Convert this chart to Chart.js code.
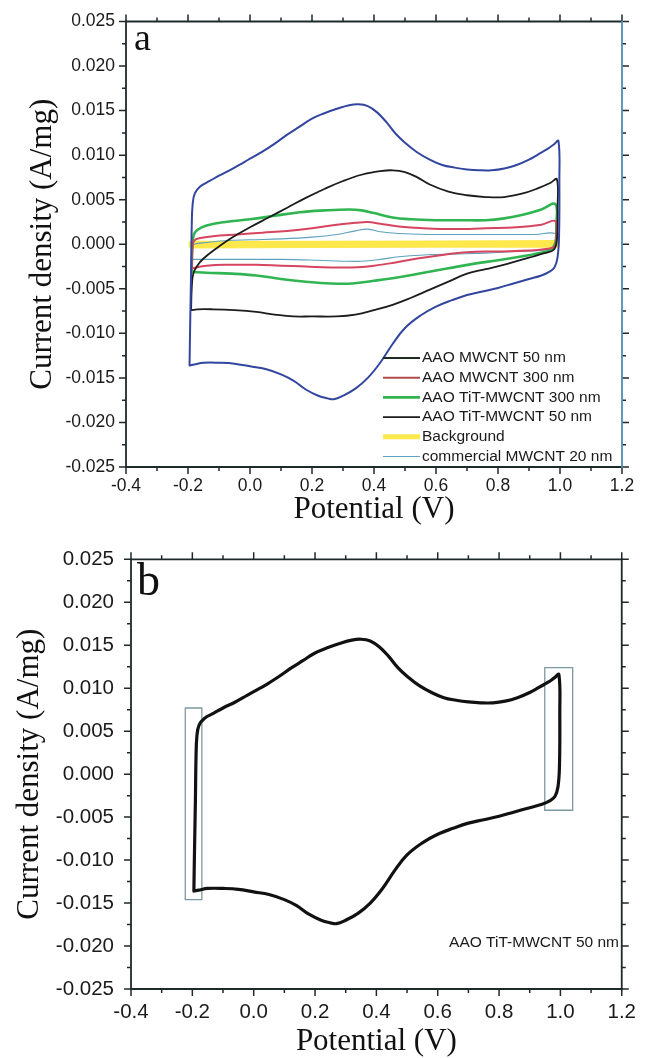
<!DOCTYPE html>
<html><head><meta charset="utf-8">
<script src="https://cdn.jsdelivr.net/npm/chart.js@4.4.1/dist/chart.umd.min.js"></script>
<style>
html,body{margin:0;padding:0;background:#fff;width:647px;height:1058px;overflow:hidden}
canvas{position:absolute;left:0;display:block}
#ca{top:0}
#cb{top:530px}
</style></head><body>
<canvas id="ca" width="647" height="530"></canvas>
<canvas id="cb" width="647" height="528"></canvas>
<script>
// ---------------- data ----------------
const xTickValues = [-0.4, -0.2, 0.0, 0.2, 0.4, 0.6, 0.8, 1.0, 1.2];
const xTickLabels = ['-0.4', '-0.2', '0.0', '0.2', '0.4', '0.6', '0.8', '1.0', '1.2'];
const yTickValues = [-0.025, -0.020, -0.015, -0.010, -0.005, 0, 0.005, 0.010, 0.015, 0.020, 0.025];
const yTickLabels = ['-0.025', '-0.020', '-0.015', '-0.010', '-0.005', '0.000', '0.005', '0.010', '0.015', '0.020', '0.025'];
const xTitle = 'Potential (V)';
const yTitle = 'Current density (A/mg)';
const seriesNames = ['AAO MWCNT 50 nm', 'AAO MWCNT 300 nm', 'AAO TiT-MWCNT 300 nm', 'AAO TiT-MWCNT 50 nm', 'Background', 'commercial MWCNT 20 nm'];
const panelLetters = ['a', 'b'];

// AAO TiT-MWCNT 50 nm (large loop, panels a and b)
const tit50V = [-0.195, -0.193, -0.190, -0.188, -0.185, -0.178, -0.160, -0.130, -0.100, -0.060, -0.020, 0.000, 0.040, 0.080, 0.120, 0.160, 0.200, 0.240, 0.280, 0.320, 0.350, 0.380, 0.410, 0.440, 0.470, 0.500, 0.540, 0.580, 0.620, 0.660, 0.700, 0.740, 0.780, 0.820, 0.860, 0.900, 0.930, 0.960, 0.980, 0.995,
  0.998, 0.997, 0.992, 0.982, 0.965, 0.940, 0.900, 0.850, 0.800, 0.750, 0.700, 0.650, 0.600, 0.550, 0.500, 0.460, 0.420, 0.380, 0.340, 0.300, 0.270, 0.250, 0.220, 0.180, 0.140, 0.100, 0.050, 0.000, -0.050, -0.100, -0.150, -0.180, -0.195];
const tit50I = [-0.0136, -0.0090, -0.0030, 0.0020, 0.0045, 0.0057, 0.0065, 0.0071, 0.0077, 0.0084, 0.0092, 0.0096, 0.0104, 0.0113, 0.0123, 0.0132, 0.0141, 0.0147, 0.0152, 0.0156, 0.0157, 0.0155, 0.0148, 0.0137, 0.0124, 0.0114, 0.0103, 0.0095, 0.0089, 0.0086, 0.0084, 0.0083, 0.0083, 0.0085, 0.0089, 0.0095, 0.0101, 0.0107, 0.0112, 0.0116,
  0.0070, 0.0010, -0.0015, -0.0026, -0.0031, -0.0035, -0.0039, -0.0044, -0.0049, -0.0053, -0.0057, -0.0063, -0.0070, -0.0080, -0.0094, -0.0112, -0.0133, -0.0150, -0.0162, -0.0170, -0.0174, -0.0173, -0.0170, -0.0163, -0.0153, -0.0146, -0.0140, -0.0137, -0.0134, -0.0133, -0.0133, -0.0135, -0.0136];

// AAO MWCNT 50 nm
const mw50V = [-0.190, -0.188, -0.183, -0.170, -0.150, -0.110, -0.060, 0.000, 0.060, 0.120, 0.180, 0.240, 0.300, 0.360, 0.420, 0.460, 0.500, 0.540, 0.580, 0.640, 0.700, 0.760, 0.820, 0.880, 0.930, 0.970, 0.990,
  0.992, 0.990, 0.980, 0.950, 0.900, 0.830, 0.760, 0.700, 0.640, 0.580, 0.520, 0.460, 0.400, 0.340, 0.280, 0.200, 0.140, 0.080, 0.020, -0.050, -0.120, -0.170, -0.190];
const mw50I = [-0.0074, -0.0050, -0.0033, -0.0024, -0.0016, -0.0005, 0.0007, 0.0019, 0.0030, 0.0041, 0.0052, 0.0062, 0.0071, 0.0078, 0.0082, 0.0083, 0.0081, 0.0075, 0.0067, 0.0059, 0.0055, 0.0053, 0.0053, 0.0057, 0.0063, 0.0069, 0.0073,
  0.0040, 0.0005, -0.0006, -0.0010, -0.0015, -0.0022, -0.0028, -0.0033, -0.0042, -0.0051, -0.0060, -0.0068, -0.0074, -0.0079, -0.0081, -0.0081, -0.0081, -0.0079, -0.0076, -0.0074, -0.0073, -0.0073, -0.0074];

// AAO MWCNT 300 nm
const mw300V = [-0.188, -0.186, -0.180, -0.160, -0.120, -0.040, 0.040, 0.120, 0.200, 0.280, 0.340, 0.380, 0.420, 0.480, 0.560, 0.660, 0.760, 0.860, 0.940, 0.985,
  0.988, 0.984, 0.960, 0.900, 0.800, 0.700, 0.620, 0.540, 0.460, 0.400, 0.330, 0.260, 0.180, 0.100, 0.020, -0.060, -0.140, -0.188];
const mw300I = [-0.0027, -0.0005, 0.0004, 0.0007, 0.0009, 0.0011, 0.0013, 0.0015, 0.0018, 0.0022, 0.0024, 0.0025, 0.0023, 0.0020, 0.0018, 0.0017, 0.0018, 0.0019, 0.0022, 0.0026,
  0.0010, -0.0002, -0.0005, -0.0007, -0.0008, -0.0009, -0.0012, -0.0016, -0.0021, -0.0024, -0.0026, -0.0026, -0.0025, -0.0024, -0.0023, -0.0023, -0.0024, -0.0027];

// AAO TiT-MWCNT 300 nm
const tit300V = [-0.188, -0.186, -0.182, -0.170, -0.140, -0.080, 0.000, 0.080, 0.160, 0.240, 0.320, 0.360, 0.400, 0.460, 0.520, 0.600, 0.680, 0.760, 0.820, 0.880, 0.940, 0.985,
  0.988, 0.985, 0.970, 0.930, 0.870, 0.800, 0.720, 0.640, 0.560, 0.480, 0.400, 0.330, 0.260, 0.180, 0.100, 0.020, -0.060, -0.140, -0.188];
const tit300I = [-0.0031, -0.0005, 0.0010, 0.0016, 0.0021, 0.0025, 0.0028, 0.0032, 0.0036, 0.0038, 0.0039, 0.0038, 0.0035, 0.0030, 0.0028, 0.0027, 0.0027, 0.0027, 0.0029, 0.0033, 0.0039, 0.0045,
  0.0020, 0.0002, -0.0006, -0.0010, -0.0014, -0.0018, -0.0022, -0.0027, -0.0032, -0.0037, -0.0041, -0.0044, -0.0044, -0.0042, -0.0039, -0.0035, -0.0033, -0.0032, -0.0031];

// Background
const bgV = [-0.190, 0.200, 0.600, 0.990, 0.990, 0.600, 0.200, -0.190, -0.190];
const bgI = [0.0001, 0.0001, 0.00015, 0.0002, -0.0001, -0.00012, -0.00015, -0.0002, 0.0001];

// commercial MWCNT 20 nm
const com20V = [-0.188, -0.186, -0.180, -0.140, -0.080, 0.000, 0.100, 0.200, 0.280, 0.340, 0.380, 0.420, 0.480, 0.580, 0.700, 0.820, 0.920, 0.985,
  0.988, 0.980, 0.940, 0.860, 0.760, 0.660, 0.560, 0.480, 0.420, 0.360, 0.300, 0.220, 0.100, -0.020, -0.120, -0.188];
const com20I = [-0.0017, -0.0003, 0.0000, 0.0002, 0.0004, 0.0005, 0.0006, 0.0008, 0.0011, 0.0015, 0.0017, 0.0014, 0.0012, 0.0011, 0.0011, 0.0011, 0.0011, 0.0012,
  0.0002, -0.0004, -0.0007, -0.0008, -0.0010, -0.0011, -0.0012, -0.0014, -0.0017, -0.0019, -0.0019, -0.0018, -0.0017, -0.0017, -0.0017, -0.0017];

// highlight boxes in panel b (potential, current)
const boxLeftV = [-0.223, -0.169, -0.169, -0.223, -0.223];
const boxLeftI = [0.0077, 0.0077, -0.0146, -0.0146, 0.0077];
const boxRightV = [0.949, 1.040, 1.040, 0.949, 0.949];
const boxRightI = [0.0124, 0.0124, -0.0042, -0.0042, 0.0124];

// ---------------- helpers ----------------
const SANS = "'Liberation Sans', Arial, Helvetica, sans-serif";
const SERIF = "'Liberation Serif', 'Times New Roman', Times, serif";
const pts = (v, i) => v.map((x, k) => ({x: x, y: i[k]}));
const lineDs = (o) => Object.assign({showLine: true, pointRadius: 0, pointHoverRadius: 0, fill: false, tension: 0.4, borderJoinStyle: 'round', borderCapStyle: 'round'}, o);

function framePlugin(o) {
  return {
    id: 'frameTicks',
    afterDatasetsDraw(chart) {
      const {ctx, chartArea: a} = chart;
      const xs = chart.scales.x, ys = chart.scales.y;
      const xMaj = xs.ticks.map(t => t.value), yMaj = ys.ticks.map(t => t.value);
      const mids = arr => arr.slice(1).map((v, k) => (v + arr[k]) / 2);
      ctx.save();
      ctx.strokeStyle = o.color;
      ctx.lineWidth = o.tickWidth;
      ctx.beginPath();
      const tx = (vals, len) => vals.forEach(v => {
        const p = xs.getPixelForValue(v);
        ctx.moveTo(p, a.bottom); ctx.lineTo(p, a.bottom + len);
        ctx.moveTo(p, a.top); ctx.lineTo(p, a.top - len);
      });
      const ty = (vals, len) => vals.forEach(v => {
        const p = ys.getPixelForValue(v);
        ctx.moveTo(a.left, p); ctx.lineTo(a.left - len, p);
        ctx.moveTo(a.right, p); ctx.lineTo(a.right + len, p);
      });
      tx(xMaj, o.major); tx(mids(xMaj), o.minor);
      ty(yMaj, o.major); ty(mids(yMaj), o.minor);
      ctx.stroke();
      ctx.lineWidth = o.frameWidth;
      ctx.lineCap = 'square';
      ctx.beginPath();
      ctx.moveTo(a.right, a.top); ctx.lineTo(a.left, a.top); ctx.lineTo(a.left, a.bottom); ctx.lineTo(a.right, a.bottom);
      ctx.stroke();
      ctx.strokeStyle = o.rightColor || o.color;
      ctx.beginPath(); ctx.moveTo(a.right, a.top); ctx.lineTo(a.right, a.bottom); ctx.stroke();
      ctx.restore();
    }
  };
}

function legendPlugin(o) {
  return {
    id: 'cvLegend',
    afterDatasetsDraw(chart) {
      const ctx = chart.ctx;
      ctx.save();
      ctx.font = o.fontSize + 'px ' + SANS;
      ctx.textBaseline = 'middle';
      ctx.textAlign = 'left';
      let row = 0;
      chart.data.datasets.forEach(ds => {
        if (!ds.inLegend) return;
        const y = o.top + row * o.rowGap;
        ctx.strokeStyle = ds.legendColor || ds.borderColor;
        ctx.lineWidth = ds.legendWidth || ds.borderWidth;
        ctx.beginPath(); ctx.moveTo(o.left, y); ctx.lineTo(o.left + o.lineLen, y); ctx.stroke();
        ctx.fillStyle = o.textColor;
        ctx.fillText(ds.label, o.left + o.lineLen + o.gap, y);
        row++;
      });
      ctx.restore();
    }
  };
}

function textPlugin(items) {
  return {
    id: 'panelText',
    afterDatasetsDraw(chart) {
      const ctx = chart.ctx;
      items.forEach(it => {
        ctx.save();
        ctx.font = it.font;
        ctx.fillStyle = it.color || '#111';
        ctx.textAlign = it.align || 'left';
        ctx.textBaseline = it.baseline || 'alphabetic';
        ctx.fillText(it.text, it.x, it.y);
        ctx.restore();
      });
    }
  };
}

function scalesFor(p) {
  return {
    x: {
      type: 'linear', position: 'bottom', min: -0.4, max: 1.2,
      afterBuildTicks: s => { s.ticks = xTickValues.map(v => ({value: v})); },
      afterFit: s => { s.height = p.xAxisHeight; },
      grid: {display: true, drawOnChartArea: false, drawTicks: false},
      border: {display: false},
      ticks: {autoSkip: false, maxRotation: 0, padding: p.xPad, color: '#1a1a1a',
        font: {family: SANS, size: p.tickSize}, callback: (v, i) => xTickLabels[i]},
      title: {display: true, text: xTitle, color: '#111',
        font: {family: SERIF, size: p.titleSize, lineHeight: 1}, padding: {top: 0, bottom: p.xTitlePad}}
    },
    y: {
      type: 'linear', position: 'left', min: -0.025, max: 0.025,
      afterBuildTicks: s => { s.ticks = yTickValues.map(v => ({value: v})); },
      afterFit: s => { s.width = p.yAxisWidth; },
      grid: {display: true, drawOnChartArea: false, drawTicks: false},
      border: {display: false},
      ticks: {autoSkip: false, padding: p.yPad, color: '#1a1a1a',
        font: {family: SANS, size: p.tickSize}, callback: (v, i) => yTickLabels[i]},
      title: {display: true, text: yTitle, color: '#111',
        font: {family: SERIF, size: p.titleSize, lineHeight: 1}, padding: {top: p.yTitlePad, bottom: 0}}
    }
  };
}

const common = {
  responsive: false, devicePixelRatio: 1, animation: false, events: [],
  plugins: {legend: {display: false}, tooltip: {enabled: false}}
};

// ---------------- panel a ----------------
new Chart(document.getElementById('ca'), {
  type: 'scatter',
  data: {
    datasets: [
      lineDs({label: seriesNames[0], data: pts(mw50V, mw50I), borderColor: '#1c1c1c', borderWidth: 1.8, order: 2, inLegend: true, legendColor: '#1f2a22'}),
      lineDs({label: seriesNames[1], data: pts(mw300V, mw300I), borderColor: '#d6455f', borderWidth: 2, order: 3, inLegend: true, legendColor: '#b04a4c'}),
      lineDs({label: seriesNames[2], data: pts(tit300V, tit300I), borderColor: '#31b552', borderWidth: 2.6, order: 4, inLegend: true}),
      lineDs({label: seriesNames[3], data: pts(tit50V, tit50I), borderColor: '#33469f', borderWidth: 2, order: 1, inLegend: true, legendColor: '#1c1c1c', legendWidth: 1.8}),
      lineDs({label: seriesNames[4], data: pts(bgV, bgI), borderColor: '#ffe84c', borderWidth: 5, tension: 0, order: 6, inLegend: true, legendWidth: 5}),
      lineDs({label: seriesNames[5], data: pts(com20V, com20I), borderColor: '#5ea2bd', borderWidth: 1.1, order: 5, inLegend: true})
    ]
  },
  options: Object.assign({}, common, {
    layout: {padding: {left: 0, right: 25, top: 20, bottom: 0}},
    scales: scalesFor({xAxisHeight: 63, yAxisWidth: 126, tickSize: 17.5, titleSize: 31, xPad: 8.5, yPad: 11, xTitlePad: 5, yTitlePad: 27})
  }),
  plugins: [
    framePlugin({color: '#1e2a2a', rightColor: '#4f8db5', tickWidth: 1.5, frameWidth: 1.8, major: 7, minor: 4}),
    legendPlugin({left: 383, top: 358, rowGap: 19.7, lineLen: 37, gap: 2, fontSize: 15.5, textColor: '#1a1a1a'}),
    textPlugin([{text: panelLetters[0], x: 134, y: 50, font: '38px ' + SERIF, color: '#111'}])
  ]
});

// ---------------- panel b ----------------
new Chart(document.getElementById('cb'), {
  type: 'scatter',
  data: {
    datasets: [
      lineDs({label: seriesNames[3], data: pts(tit50V, tit50I), borderColor: '#111111', borderWidth: 3.2, order: 1}),
      lineDs({label: 'box-left', data: pts(boxLeftV, boxLeftI), borderColor: '#7d98a2', borderWidth: 1.3, tension: 0, borderJoinStyle: 'miter', order: 2}),
      lineDs({label: 'box-right', data: pts(boxRightV, boxRightI), borderColor: '#7d98a2', borderWidth: 1.3, tension: 0, borderJoinStyle: 'miter', order: 2})
    ]
  },
  options: Object.assign({}, common, {
    layout: {padding: {left: 0, right: 20, top: 28, bottom: 0}},
    scales: scalesFor({xAxisHeight: 69, yAxisWidth: 131, tickSize: 20.5, titleSize: 31, xPad: 11, yPad: 17, xTitlePad: 0.5, yTitlePad: 14})
  }),
  plugins: [
    framePlugin({color: '#1e2a2a', tickWidth: 1.5, frameWidth: 1.8, major: 7, minor: 4}),
    textPlugin([
      {text: panelLetters[1], x: 137, y: 65, font: '46px ' + SERIF, color: '#111'},
      {text: seriesNames[3], x: 619, y: 413, font: '15.5px ' + SANS, color: '#1a1a1a', align: 'right', baseline: 'middle'}
    ])
  ]
});
</script>
</body></html>
